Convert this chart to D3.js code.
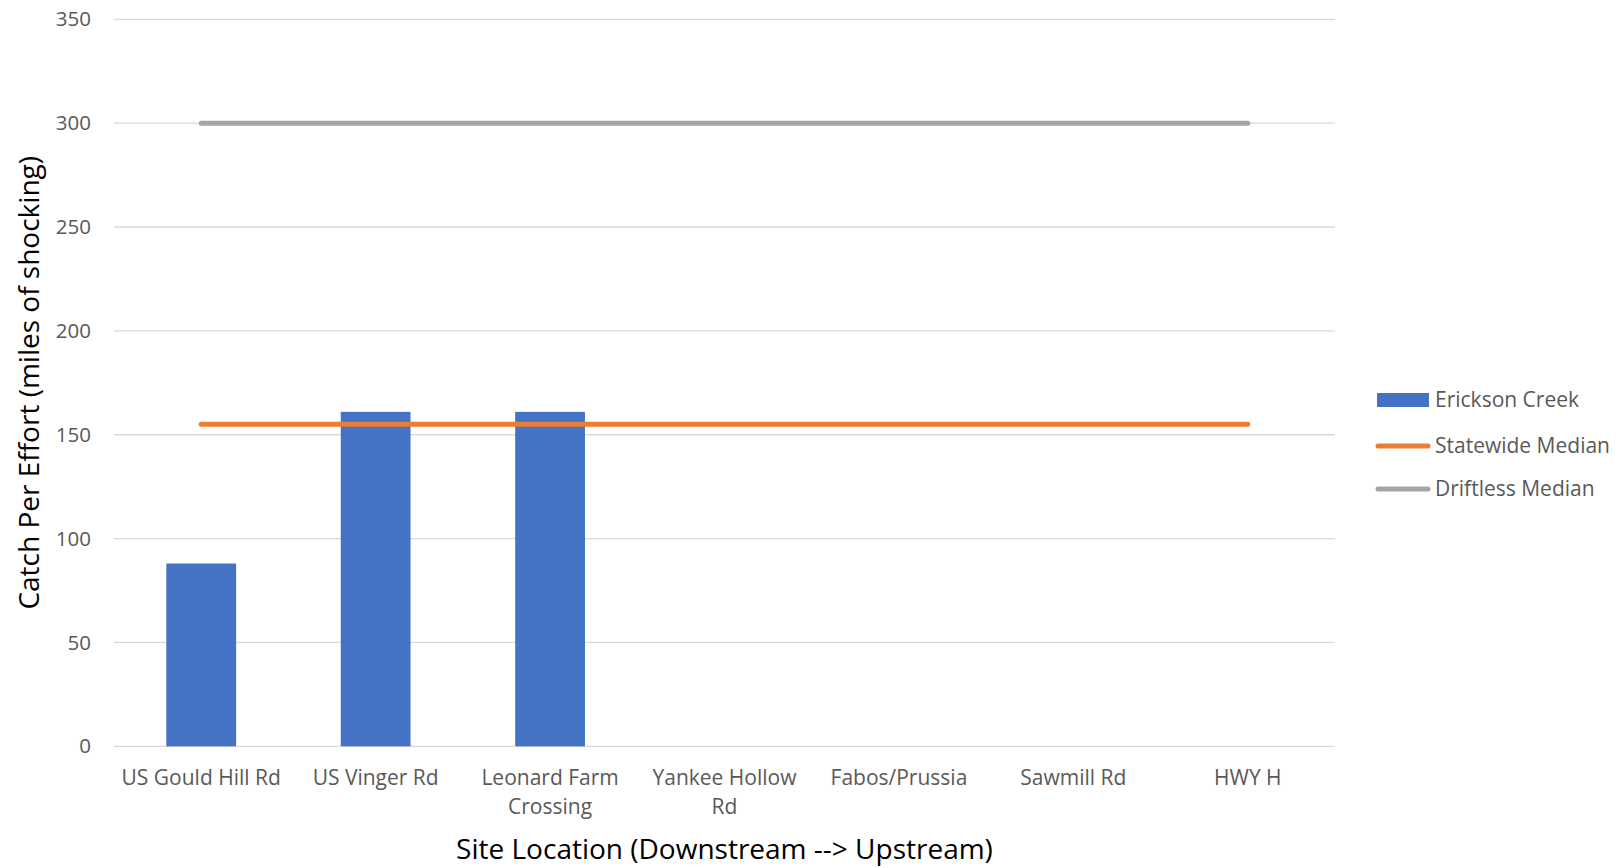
<!DOCTYPE html>
<html><head><meta charset="utf-8">
<script src="https://cdn.jsdelivr.net/npm/d3@7"></script>
<style>body{margin:0;background:#fff}svg{display:block}</style>
</head><body>
<svg id="c" width="1623" height="868"></svg>
<script>
const categories = ["US Gould Hill Rd","US Vinger Rd","Leonard Farm Crossing","Yankee Hollow Rd","Fabos/Prussia","Sawmill Rd","HWY H"];
const ericksonCreek = [88, 161, 161, null, null, null, null];
const statewideMedian = [155,155,155,155,155,155,155];
const driftlessMedian = [300,300,300,300,300,300,300];
const yTicks = [0,50,100,150,200,250,300,350];
const seriesNames = ["Erickson Creek","Statewide Median","Driftless Median"];
const colors = ["#4472C4","#ED7D31","#A5A5A5"];

const font = "'Open Sans', sans-serif";
const svg = d3.select("#c");
const m = {l:114, r:1335, t:19.3, b:746.3};
const x = d3.scaleBand().domain(categories).range([m.l, m.r]).padding(0);
const y = d3.scaleLinear().domain([0,350]).range([m.b, m.t]);

// gridlines
svg.append("g").selectAll("line").data(yTicks).join("line")
  .attr("x1", m.l).attr("x2", m.r)
  .attr("y1", d=>y(d)).attr("y2", d=>y(d))
  .attr("stroke", "#D9D9D9").attr("stroke-width", 1.3);

// y axis labels
const yAxis = d3.axisLeft(y).tickValues(yTicks).tickSize(0).tickPadding(0);
const ya = svg.append("g").attr("transform", `translate(${m.l-23},0)`).call(yAxis);
ya.select(".domain").remove();
ya.selectAll("text").attr("font-family", font).attr("font-size", 20.5).attr("fill", "#595959");

// bars
const bw = x.bandwidth()*0.4;
svg.append("g").selectAll("rect").data(categories.map((c,i)=>({c, v: ericksonCreek[i]})).filter(d=>d.v!=null)).join("rect")
  .attr("x", d=>x(d.c)+x.bandwidth()/2-bw/2).attr("width", bw)
  .attr("y", d=>y(d.v)).attr("height", d=>y(0)-y(d.v))
  .attr("fill", colors[0]);

// lines
const line = d3.line().x((d,i)=>x(categories[i])+x.bandwidth()/2).y(d=>y(d));
[[statewideMedian,1],[driftlessMedian,2]].forEach(([arr,ci])=>{
  svg.append("path").attr("d", line(arr)).attr("fill","none")
    .attr("stroke", colors[ci]).attr("stroke-width", 5).attr("stroke-linecap","round");
});

// x axis labels
const xAxis = d3.axisBottom(x).tickSize(0).tickPadding(0);
const xa = svg.append("g").attr("transform", `translate(0,${m.b})`).call(xAxis);
xa.select(".domain").remove();
xa.selectAll("text").attr("font-family", font).attr("font-size", 21).attr("fill", "#595959")
  .attr("dy", null).attr("y", 39)
  .each(function(d){
    const t = d3.select(this);
    const words = d.split(" ");
    t.text(null);
    let lineWords = [];
    let ts = t.append("tspan").attr("x",0);
    for (const w of words){
      lineWords.push(w);
      ts.text(lineWords.join(" "));
      if (ts.node().getComputedTextLength() > 166 && lineWords.length>1){
        lineWords.pop();
        ts.text(lineWords.join(" "));
        lineWords=[w];
        ts = t.append("tspan").attr("x",0).attr("dy", 29).text(w);
      }
    }
  });

// axis titles
svg.append("text").attr("transform", `translate(39,${(m.t+m.b)/2}) rotate(-90)`)
  .attr("text-anchor","middle").attr("font-family", font).attr("font-size", 28).attr("fill","#000")
  .text("Catch Per Effort (miles of shocking)");
svg.append("text").attr("x", (m.l+m.r)/2).attr("y", 859)
  .attr("text-anchor","middle").attr("font-family", font).attr("font-size", 28).attr("fill","#000")
  .text("Site Location (Downstream --> Upstream)");

// legend
const lg = svg.append("g").attr("transform","translate(1376,0)");
const ly = [400, 446, 489];
seriesNames.forEach((n,i)=>{
  if (i===0) lg.append("rect").attr("x",1).attr("y",ly[i]-7).attr("width",52).attr("height",14).attr("fill",colors[0]);
  else lg.append("line").attr("x1",2).attr("x2",52).attr("y1",ly[i]).attr("y2",ly[i]).attr("stroke",colors[i]).attr("stroke-width",5).attr("stroke-linecap","round");
  lg.append("text").attr("x",59).attr("y",ly[i]).attr("dy","0.35em").attr("font-family",font).attr("font-size",21).attr("fill","#595959").text(n);
});
</script>
</body></html>
